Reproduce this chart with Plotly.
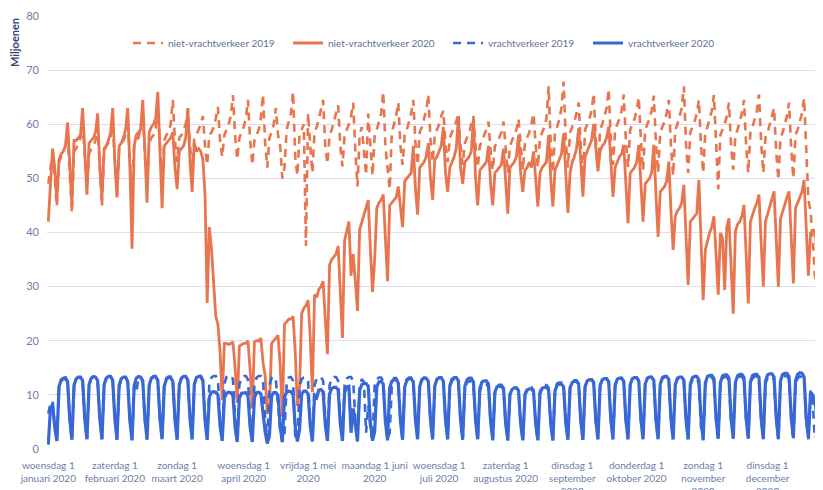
import pandas as pd
import plotly.graph_objects as go

dates = pd.date_range("2020-01-01", "2020-12-31", freq="D")

# niet-vrachtverkeer 2019 (aligned by weekday), week rows Mon..Sun
niet_2019 = [
    49, 52, 54.5, 50, 44.8,
    53, 54, 55, 56, 58, 50, 43.6,
    55, 55.5, 56.5, 57.5, 60, 53, 48.2,
    54.5, 55.5, 56, 57, 59.5, 51, 44.8,
    55, 56, 56.5, 57.5, 60, 52, 46.7,
    55.5, 56.5, 57, 58, 61, 53, 48.5,
    56, 57, 57.5, 59, 62, 54, 49,
    56.5, 57.5, 58, 59, 63, 55, 49,
    57, 58, 58.5, 60, 64.5, 57, 53,
    57.5, 58, 59, 60, 62.7, 56, 52,
    57.5, 58, 59, 60, 61.5, 56, 52.5,
    58, 58.5, 59.5, 61, 63.2, 57, 54,
    58, 59, 60, 61.5, 65.4, 58, 53.5,
    57.5, 58.5, 59.5, 61, 64.5, 57, 52.5,
    57, 58, 59, 61, 65.5, 56.5, 52,
    57.5, 58.5, 60, 63, 58, 56, 50,
    52, 59, 60.5, 62, 66, 54, 50.5,
    58, 59, 60, 37.5, 62, 56, 51,
    58.5, 59.5, 61, 62.5, 64.5, 56, 52.7,
    58, 59, 60.5, 62, 63.5, 56, 52.2,
    58, 59, 60, 61.5, 64, 55, 48.5,
    58, 59.5, 55, 50.6, 62, 56, 50.5,
    58, 59, 60.5, 62, 66, 56, 52,
    48, 58.5, 60, 61.5, 64, 56, 52.5,
    58, 59, 60.5, 62, 64.5, 56.5, 52.5,
    58.5, 59.5, 61, 62.5, 65.5, 57, 53,
    58, 59, 60, 61.5, 62.5, 56, 53,
    57.5, 58.5, 59.5, 60.5, 62, 56, 52.5,
    56.5, 57.5, 58.5, 60, 61.5, 56, 52,
    56, 57, 58, 59, 60.5, 55, 51.5,
    56, 56.5, 57.5, 58.5, 60.5, 55, 51,
    56, 57, 58, 59, 61, 55.5, 51.5,
    56.5, 57.5, 58.5, 60, 62, 56, 52,
    57.5, 58.5, 59.5, 61, 67, 56.5, 51,
    58.5, 59.5, 61, 63, 67.9, 57, 52,
    58.5, 59.5, 60.5, 62, 64, 56, 50,
    59, 60, 61, 62.5, 65.7, 57, 52,
    59, 60, 61.5, 63, 66.5, 57, 52.5,
    59, 60, 61, 62.5, 65.5, 57, 52,
    59, 60, 61, 62.5, 65, 57, 51.5,
    59, 60, 61, 62.5, 65.3, 56.5, 51,
    58.5, 59.5, 60.5, 62, 64.5, 56, 50.5,
    59, 60, 61.5, 63, 67, 56.5, 51,
    58.5, 59.5, 60.5, 62, 64.5, 56, 51,
    58.5, 59.5, 61, 62.5, 65.4, 55, 48,
    58, 59, 60, 61.5, 64, 56, 51.6,
    58, 59, 60.5, 62, 64.5, 56, 51,
    58.5, 59.5, 61, 62.5, 65.5, 56.5, 51,
    57.5, 58.5, 60, 61.5, 63, 55, 49.7,
    57.5, 58.5, 60, 61.5, 64, 55.5, 50,
    58, 59, 60.5, 62, 64.8, 55, 46,
    44, 39, 32, 30, 42, 44, 40,
    45, 46, 40, 30,
]

# niet-vrachtverkeer 2020
niet_2020 = [
    42, 49, 55.5, 52, 46,
    53.5, 54.5, 55, 56, 60.3, 53, 45,
    57, 57, 57.5, 58, 63, 55, 47,
    56.5, 57, 57.5, 58.5, 62, 52, 46.5,
    55.5, 56, 57, 58.5, 63, 53, 46.5,
    56, 56.5, 57.5, 59, 63, 52, 37,
    56, 58, 58.5, 59, 64.5, 55, 45.5,
    58.5, 59.5, 60, 61, 66, 55, 44.5,
    56, 56.5, 57, 57.5, 58.5, 52, 48,
    55, 55.5, 56, 57.5, 63, 53, 47.5,
    56.5, 55, 55.5, 55, 53.5, 47, 27,
    41, 37, 30, 24.5, 23, 18, 9,
    19.5, 19.5, 19.3, 19.5, 19.8, 15, 8.5,
    19, 19.3, 19.5, 19.5, 20, 14.5, 7.5,
    19.8, 20, 20, 20.5, 16, 13.5, 6.5,
    7.5, 19.5, 20, 20.3, 21, 15.5, 6,
    23, 23.5, 24, 24, 24.5, 18, 8,
    11, 25, 26, 26.5, 27.5, 20.5, 10.5,
    28.5, 28, 29.5, 30, 31, 24, 17.5,
    34, 35, 35.5, 36, 37.5, 28, 20.5,
    38.5, 40, 42, 32, 36, 31, 25.5,
    40.5, 42, 43.5, 44.5, 46, 37, 29,
    35, 44.5, 45.5, 46, 47, 40, 31,
    45, 45.5, 46, 46.5, 48.5, 44, 41,
    49.5, 50, 50.5, 51, 56, 48, 43.3,
    52, 52.5, 53, 54, 56.5, 50, 46,
    53.5, 54, 55, 56, 59.5, 51, 47.5,
    52, 53, 54, 55.5, 61.5, 52, 49,
    53, 53.5, 54, 55, 61, 50, 45,
    51.5, 52, 52.5, 53, 56, 49, 45,
    51, 51.5, 52, 52.5, 55.5, 48.5, 43.5,
    52, 52.5, 53, 54, 58, 51, 47.5,
    51.5, 52, 53, 52, 55, 49.5, 44.8,
    51, 52, 52.5, 53, 58, 50, 44.8,
    51.6, 52.5, 53.5, 54.5, 58.3, 50, 43.6,
    51, 53, 54, 55.5, 59.3, 52, 46.6,
    54, 55, 56, 57, 60, 55, 51.3,
    55, 56, 56.5, 57.5, 59.6, 52, 46.6,
    52, 53, 54, 54.5, 56.2, 49, 41.7,
    51, 51.5, 52, 53, 56.2, 49, 42,
    49, 49.5, 50, 51, 56.2, 47, 39.2,
    47.5, 48, 48.5, 49.5, 53.1, 44, 36.8,
    43, 44, 44.5, 45.5, 48.8, 39, 30.3,
    42, 42.5, 43, 43.5, 49.7, 37, 27.5,
    36.8, 38.5, 40, 41, 43, 36, 28.5,
    39.9, 39, 29.4, 41, 42.6, 35, 25,
    40.2, 41.5, 42, 43, 45.1, 36, 26.9,
    42, 43.5, 44.5, 45.5, 47, 38, 30,
    42, 43.5, 45, 46, 47.6, 39, 30,
    42.5, 44, 45, 46.5, 47.6, 40, 30.6,
    44.5, 45.5, 46.5, 47.5, 49.7, 39.2, 32,
    39.9, 40.2, 40.5, 36.8, 24.5, 23.3, 22,
    33, 34, 34, 30,
]

# vrachtverkeer 2019 (aligned by weekday)
vracht_2019 = [
    6.5, 8.5, 8.8, 4.3, 1.6,
    11.3, 12.6, 12.9, 12.9, 12.2, 5.3, 1.7,
    11.7, 12.9, 13.2, 13.2, 12.5, 5.5, 1.8,
    11.8, 13.0, 13.3, 13.3, 12.6, 5.5, 1.8,
    11.8, 13.0, 13.3, 13.3, 12.6, 5.5, 1.8,
    11.6, 12.9, 13.2, 13.2, 12.5, 5.4, 1.7,
    11.6, 10.5, 13.2, 13.2, 12.5, 5.4, 1.7,
    11.8, 13.0, 13.3, 13.3, 12.6, 5.5, 1.8,
    11.9, 13.1, 13.4, 13.4, 12.7, 5.6, 1.8,
    11.9, 13.1, 13.4, 13.4, 12.7, 5.6, 1.8,
    11.9, 13.2, 13.5, 13.5, 12.8, 5.6, 1.8,
    12.0, 13.2, 13.5, 13.5, 12.8, 5.6, 1.8,
    12.0, 13.3, 13.6, 13.6, 12.9, 5.7, 1.9,
    11.9, 13.2, 13.5, 13.5, 12.8, 5.6, 1.8,
    11.9, 13.2, 13.5, 13.5, 12.8, 5.6, 1.8,
    11.8, 13.1, 13.4, 12.8, 8.5, 3.5, 1.3,
    2.8, 11.8, 13.2, 13.3, 12.6, 2.5, 1.4,
    11.6, 12.9, 13.2, 13.2, 12.5, 5.4, 1.7,
    11.8, 13.0, 13.3, 13.3, 12.6, 5.5, 1.8,
    11.8, 13.0, 13.3, 13.3, 12.6, 5.5, 1.8,
    11.8, 13.0, 13.3, 13.3, 12.6, 5.5, 1.8,
    11.7, 12.9, 12.4, 3.0, 8.0, 4.0, 1.5,
    11.7, 12.9, 13.2, 13.2, 12.5, 5.4, 1.8,
    3.0, 11.8, 13.1, 13.1, 12.4, 5.4, 1.7,
    11.7, 12.9, 13.2, 13.2, 12.5, 5.4, 1.8,
    11.7, 12.9, 13.2, 13.2, 12.5, 5.4, 1.8,
    11.6, 12.8, 13.1, 13.1, 12.4, 5.3, 1.8,
    11.4, 12.6, 12.9, 12.9, 12.2, 5.2, 1.7,
    11.1, 12.3, 12.5, 12.5, 11.9, 5.1, 1.7,
    10.7, 11.8, 12.0, 12.0, 11.4, 4.9, 1.6,
    10.3, 11.3, 11.5, 11.5, 11.0, 4.7, 1.6,
    10.1, 11.1, 11.3, 11.3, 10.8, 4.6, 1.6,
    10.2, 11.2, 11.4, 11.4, 10.9, 4.7, 1.6,
    10.6, 11.6, 11.8, 11.8, 11.3, 4.8, 1.6,
    11.0, 12.1, 12.3, 12.3, 11.7, 5.0, 1.7,
    11.4, 12.5, 12.7, 12.7, 12.1, 5.2, 1.7,
    11.6, 12.7, 12.9, 12.9, 12.3, 5.2, 1.8,
    11.7, 12.8, 13.0, 13.0, 12.4, 5.3, 1.8,
    11.8, 12.9, 13.1, 13.1, 12.5, 5.3, 1.8,
    11.8, 12.9, 13.2, 13.2, 12.5, 5.3, 1.8,
    11.9, 13.0, 13.3, 13.3, 12.6, 5.4, 1.8,
    11.9, 13.0, 13.3, 13.3, 12.6, 5.4, 1.8,
    11.8, 12.9, 13.2, 13.2, 12.5, 5.3, 1.8,
    11.7, 12.8, 13.1, 13.1, 12.0, 4.0, 1.6,
    11.9, 13.0, 13.3, 13.3, 12.6, 5.4, 1.8,
    11.9, 13.0, 13.3, 13.3, 12.6, 5.0, 3.5,
    12.0, 13.1, 13.4, 13.4, 12.7, 5.4, 1.8,
    12.0, 13.1, 13.4, 13.4, 12.7, 5.4, 1.8,
    12.1, 13.2, 13.5, 13.5, 12.8, 5.5, 1.8,
    12.1, 13.2, 13.5, 13.5, 12.8, 5.5, 1.8,
    12.0, 13.1, 13.4, 13.3, 12.5, 5.2, 1.8,
    10.8, 8.5, 2.0, 2.5, 7.5, 4.0, 1.5,
    8.5, 8.8, 6.0, 1.0,
]

# vrachtverkeer 2020
vracht_2020 = [
    0.8, 7.5, 8.3, 4.0, 1.5,
    11.5, 12.8, 13.1, 13.2, 12.5, 5.5, 1.7,
    11.8, 13.0, 13.3, 13.3, 12.6, 5.6, 1.8,
    11.9, 13.1, 13.4, 13.3, 12.6, 5.5, 1.8,
    11.9, 13.1, 13.4, 13.4, 12.7, 5.6, 1.7,
    11.8, 13.0, 13.3, 13.3, 12.5, 5.2, 1.6,
    11.7, 13.1, 13.4, 13.3, 12.6, 5.5, 1.8,
    11.8, 13.1, 13.4, 13.4, 12.7, 5.6, 1.8,
    11.6, 12.9, 13.2, 13.2, 12.5, 5.4, 1.7,
    11.8, 13.1, 13.4, 13.4, 12.7, 5.6, 1.8,
    11.9, 13.2, 13.4, 13.4, 12.6, 5.3, 1.7,
    9.6, 10.5, 10.6, 10.5, 10.0, 4.3, 1.5,
    9.4, 10.3, 10.5, 10.4, 9.9, 4.0, 1.3,
    9.4, 10.3, 10.4, 10.4, 9.8, 4.0, 1.3,
    9.5, 10.4, 10.5, 10.2, 6.5, 3.2, 1.0,
    2.5, 9.8, 10.4, 10.4, 9.9, 4.0, 1.3,
    9.6, 10.5, 10.7, 10.6, 10.1, 4.2, 1.4,
    3.5, 10.2, 10.7, 10.7, 10.2, 4.3, 1.4,
    9.9, 9.5, 10.9, 11.0, 10.5, 4.5, 1.5,
    10.2, 11.2, 11.4, 11.4, 10.9, 4.6, 1.5,
    10.4, 11.5, 11.6, 3.0, 7.5, 3.8, 1.4,
    10.8, 11.9, 12.1, 12.1, 11.6, 4.9, 1.6,
    3.2, 11.5, 12.4, 12.5, 12.0, 5.0, 1.6,
    11.3, 12.5, 12.8, 12.8, 12.2, 5.2, 1.7,
    11.5, 12.7, 13.0, 13.0, 12.4, 5.3, 1.8,
    11.6, 12.8, 13.1, 13.1, 12.5, 5.3, 1.8,
    11.7, 12.9, 13.2, 13.2, 12.5, 5.4, 1.8,
    11.7, 12.9, 13.2, 13.2, 12.6, 5.4, 1.8,
    11.6, 12.8, 13.1, 13.1, 12.4, 5.3, 1.8,
    11.2, 12.4, 12.6, 12.6, 12.0, 5.1, 1.7,
    10.5, 11.5, 11.8, 11.8, 11.2, 4.8, 1.6,
    10.1, 11.0, 11.3, 11.3, 10.8, 4.7, 1.6,
    10.0, 10.9, 11.1, 11.1, 10.6, 4.6, 1.6,
    10.3, 11.2, 11.4, 11.4, 10.9, 4.7, 1.6,
    10.8, 11.8, 12.0, 12.0, 11.5, 4.9, 1.7,
    11.3, 12.3, 12.5, 12.5, 12.0, 5.1, 1.7,
    11.5, 12.6, 12.8, 12.8, 12.3, 5.2, 1.8,
    11.7, 12.8, 13.0, 13.0, 12.4, 5.3, 1.8,
    11.8, 12.9, 13.1, 13.1, 12.5, 5.3, 1.8,
    11.9, 13.0, 13.2, 13.2, 12.6, 5.4, 1.8,
    12.0, 13.1, 13.3, 13.3, 12.7, 5.4, 1.8,
    12.0, 13.2, 13.4, 13.4, 12.8, 5.5, 1.8,
    11.9, 13.1, 13.3, 13.3, 12.7, 5.4, 1.8,
    12.0, 13.2, 13.4, 13.4, 12.8, 5.5, 1.8,
    12.2, 13.4, 13.6, 13.6, 13.0, 5.6, 1.9,
    12.3, 13.5, 13.7, 13.7, 13.1, 5.6, 1.9,
    12.3, 13.5, 13.8, 13.8, 13.2, 5.7, 1.9,
    12.4, 13.6, 13.8, 13.8, 13.2, 5.7, 1.9,
    12.5, 13.7, 13.9, 13.9, 13.3, 5.8, 1.9,
    12.6, 13.8, 14.0, 14.0, 13.4, 5.8, 2.0,
    12.6, 13.8, 14.1, 14.0, 13.3, 5.6, 2.0,
    10.5, 10.0, 8.8, 6.0, 1.5, 2.0, 1.4,
    8.0, 8.3, 7.5, 4.5,
]

tick_dates = ["2020-01-01", "2020-02-01", "2020-03-01", "2020-04-01", "2020-05-01",
              "2020-06-01", "2020-07-01", "2020-08-01", "2020-09-01", "2020-10-01",
              "2020-11-01", "2020-12-01"]
tick_labels = ["woensdag 1<br>januari 2020", "zaterdag 1<br>februari 2020",
               "zondag 1<br>maart 2020", "woensdag 1<br>april 2020",
               "vrijdag 1 mei<br>2020", "maandag 1 juni<br>2020",
               "woensdag 1<br>juli 2020", "zaterdag 1<br>augustus 2020",
               "dinsdag 1<br>september<br>2020", "donderdag 1<br>oktober 2020",
               "zondag 1<br>november<br>2020", "dinsdag 1<br>december<br>2020"]

for s in (niet_2019, niet_2020, vracht_2019, vracht_2020):
    assert len(s) == len(dates), len(s)

ORANGE = "#E8754D"
BLUE = "#3867D6"
FONT = "Lato"

series = [
    ("niet-vrachtverkeer 2019", niet_2019, ORANGE, 2.6, "8px,6px", "legend"),
    ("niet-vrachtverkeer 2020", niet_2020, ORANGE, 2.8, "solid", "legend2"),
    ("vrachtverkeer 2019", vracht_2019, BLUE, 2.6, "8px,6px", "legend3"),
    ("vrachtverkeer 2020", vracht_2020, BLUE, 3.2, "solid", "legend4"),
]

fig = go.Figure()
for name, vals, col, w, dash, leg in series:
    fig.add_trace(go.Scatter(x=dates, y=vals, mode="lines", name=name, legend=leg,
                             line=dict(color=col, width=w, dash=dash)))

# page body has an 8px default margin, so the figure is sized to end at the window edge
FIG_W, FIG_H = 815, 482
leg_common = dict(orientation="h", xanchor="left", y=0.9376, yanchor="middle",
                  bgcolor="rgba(0,0,0,0)", font=dict(size=10, color="#5F6E9C"),
                  itemwidth=30)

fig.update_layout(
    width=FIG_W, height=FIG_H,
    margin=dict(l=39, r=0, t=8, b=41, autoexpand=False),
    plot_bgcolor="white", paper_bgcolor="white",
    font=dict(family=FONT, color="#6E7DA8"),
    showlegend=True,
    legend=dict(x=0.1044, **leg_common),
    legend2=dict(x=0.3106, **leg_common),
    legend3=dict(x=0.5168, **leg_common),
    legend4=dict(x=0.6972, **leg_common),
    xaxis=dict(type="date", range=["2019-12-31 09:36", "2020-12-26 19:12"],
               tickmode="array", tickvals=tick_dates, ticktext=tick_labels,
               tickangle=0, automargin=False, ticklabelstandoff=9,
               showgrid=False, zeroline=False, showline=False, ticks="",
               tickfont=dict(size=10, color="#6E7DA8")),
    yaxis=dict(range=[0, 80], dtick=10, gridcolor="#DCDDF0", gridwidth=1,
               zeroline=False, showline=False, ticks="", automargin=False,
               ticklabelstandoff=7,
               tickfont=dict(size=11, color="#6E7DA8")),
    annotations=[dict(text="<b>Miljoenen</b>", xref="paper", yref="paper",
                      x=-0.0425, y=0.9376, xanchor="center", yanchor="middle",
                      showarrow=False, textangle=-90,
                      font=dict(size=11, color="#34447A"))],
)

fig.write_html("out.html")
